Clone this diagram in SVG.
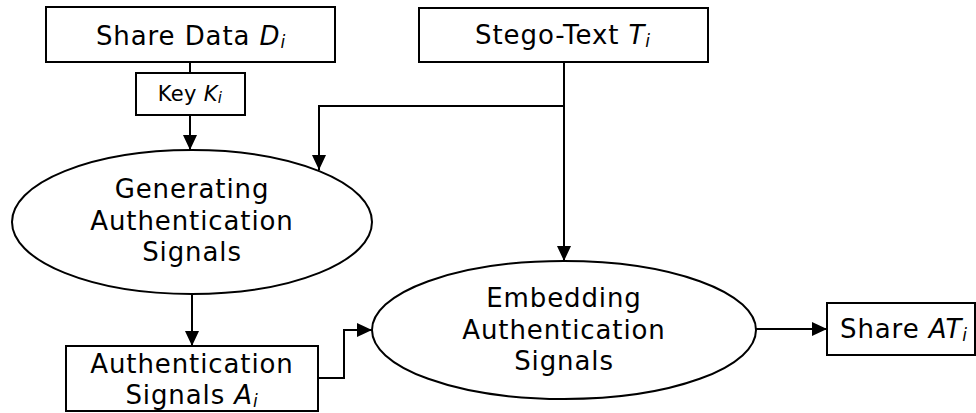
<svg xmlns="http://www.w3.org/2000/svg" width="976" height="413" viewBox="0 0 976 413">
  <defs>
    <marker id="arrow" markerUnits="userSpaceOnUse" markerWidth="15" markerHeight="14" viewBox="0 0 15 14" refX="15" refY="7" orient="auto">
      <path d="M0,0 L15,7 L0,14 Z" fill="#000"/>
    </marker>
    <style>
      .box { fill: #fff; stroke: #000; stroke-width: 2; }
      .oval { fill: #fff; stroke: #000; stroke-width: 2; }
      .lbl { font-family: "DejaVu Sans", Verdana, sans-serif; font-size: 26px; letter-spacing: 0.9px; fill: #000; text-anchor: middle; }
      .small { font-size: 21px; letter-spacing: 0.3px; }
      .it { font-style: italic; }
      .sub { font-style: italic; font-size: 17px; }
      .conn { fill: none; stroke: #000; stroke-width: 2; }
      .arr { marker-end: url(#arrow); }
    </style>
  </defs>

  <!-- connectors -->
  <g id="connectors">
    <path class="conn" d="M190,62 L190,73"/>
    <path class="conn arr" d="M190,115 L190,150"/>
    <path class="conn arr" d="M564,62 L564,261"/>
    <path class="conn arr" d="M564,106 L319,106 L319,170"/>
    <path class="conn arr" d="M192,294 L192,346"/>
    <path class="conn arr" d="M318,378 L344,378 L344,330 L372,330"/>
    <path class="conn arr" d="M756,329 L827,329"/>
  </g>

  <g id="share-data">
    <rect class="box" x="46" y="7" width="289" height="55"/>
    <text class="lbl" x="191" y="45">Share Data <tspan class="it">D</tspan><tspan class="sub" dy="3">i</tspan></text>
  </g>

  <g id="key">
    <rect class="box" x="136" y="73" width="109" height="42"/>
    <text class="lbl small" x="190" y="101">Key <tspan class="it">K</tspan><tspan class="sub" dy="2" style="font-size:15px">i</tspan></text>
  </g>

  <g id="stego-text">
    <rect class="box" x="419" y="8" width="289" height="54"/>
    <text class="lbl" x="563" y="44">Stego-Text <tspan class="it">T</tspan><tspan class="sub" dy="3">i</tspan></text>
  </g>

  <g id="generating">
    <ellipse class="oval" cx="192" cy="222" rx="180" ry="72"/>
    <text class="lbl" x="192" y="198">Generating</text>
    <text class="lbl" x="192" y="230">Authentication</text>
    <text class="lbl" x="192" y="261">Signals</text>
  </g>

  <g id="auth-signals">
    <rect class="box" x="66" y="346" width="252" height="65"/>
    <text class="lbl" x="192" y="373">Authentication</text>
    <text class="lbl" x="192" y="404">Signals <tspan class="it">A</tspan><tspan class="sub" dy="3">i</tspan></text>
  </g>

  <g id="embedding">
    <ellipse class="oval" cx="564" cy="330" rx="192" ry="69"/>
    <text class="lbl" x="564" y="307">Embedding</text>
    <text class="lbl" x="564" y="339">Authentication</text>
    <text class="lbl" x="564" y="370">Signals</text>
  </g>

  <g id="share-at">
    <rect class="box" x="827" y="303" width="148" height="52"/>
    <text class="lbl" x="840" y="338" style="text-anchor:start">Share <tspan class="it">AT</tspan><tspan class="sub" dy="3">i</tspan></text>
  </g>
</svg>
